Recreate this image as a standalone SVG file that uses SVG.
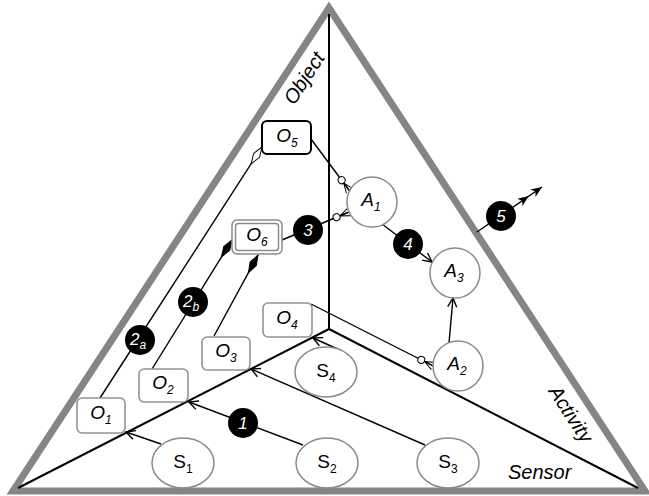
<svg xmlns="http://www.w3.org/2000/svg" width="649" height="496" viewBox="0 0 649 496">
<style>
.frame{fill:none;stroke:#858585;stroke-width:7;stroke-linejoin:miter}
.axis{fill:none;stroke:#000;stroke-width:2}
.conn{fill:none;stroke:#000;stroke-width:1.4}
.obox{fill:#fff;stroke:#939393;stroke-width:1.6}
.circ{fill:#fff;stroke:#8a8a8a;stroke-width:1.5}
.lbl{fill:#000}
.t{font-family:"Liberation Sans",Arial,sans-serif;font-size:19px;font-style:italic;fill:#000}
.s{font-family:"Liberation Sans",Arial,sans-serif;font-size:19px;fill:#000}
.w{font-family:"Liberation Sans",Arial,sans-serif;font-size:17px;font-style:italic;fill:#fff}
.big{font-family:"Liberation Sans",Arial,sans-serif;font-size:20px;font-style:italic;fill:#000}
</style>
<defs>
<marker id="arr" markerUnits="userSpaceOnUse" markerWidth="12" markerHeight="12" refX="0" refY="0" orient="auto" style="overflow:visible"><path d="M-9,-4.5 L0,0 L-9,4.5" fill="none" stroke="#000" stroke-width="1.4"/></marker>
<marker id="dh" markerUnits="userSpaceOnUse" markerWidth="22" markerHeight="10" refX="0" refY="0" orient="auto" style="overflow:visible"><path d="M0,0 L-10,-3.5 L-20,0 L-10,3.5 Z" fill="#fff" stroke="#000" stroke-width="1"/></marker>
<marker id="df" markerUnits="userSpaceOnUse" markerWidth="22" markerHeight="10" refX="0" refY="0" orient="auto" style="overflow:visible"><path d="M0,0 L-10,-3.5 L-20,0 L-10,3.5 Z" fill="#000" stroke="#000" stroke-width="1"/></marker>
<marker id="cf" markerUnits="userSpaceOnUse" markerWidth="20" markerHeight="12" refX="0" refY="0" orient="auto" style="overflow:visible"><path d="M0,-4 L-10,0 L0,4 M0,0 L-10,0" fill="none" stroke="#000" stroke-width="1"/><circle cx="-13.5" cy="0" r="3.5" fill="#fff" stroke="#000" stroke-width="1"/></marker>
<marker id="dbl" markerUnits="userSpaceOnUse" markerWidth="30" markerHeight="12" refX="0" refY="0" orient="auto" style="overflow:visible"><path d="M0,0 L-11,-4.5 L-8,0 L-11,4.5 Z M-16,0 L-27,-4.5 L-24,0 L-27,4.5 Z" fill="#000"/></marker>
</defs>
<rect width="649" height="496" fill="#fff"/>

<g id="frame">
<polygon class="frame" points="329,8 13,491 645,491"/>
<path class="axis" d="M329,14 L329,329 M329,329 L18,488 M329,329 L638,488"/>
<text class="big" transform="translate(304,78) rotate(-57)" x="0" y="7" text-anchor="middle">Object</text>
<text class="big" transform="translate(571,414) rotate(57)" x="0" y="7" text-anchor="middle">Activity</text>
<text class="big" x="508" y="479">Sensor</text>
</g>

<g id="connectors">
<path class="conn" d="M161,444 L126,432" marker-end="url(#arr)"/>
<path class="conn" d="M303,445 L189,402" marker-end="url(#arr)"/>
<path class="conn" d="M425,445 L251,369" marker-end="url(#arr)"/>
<path class="conn" d="M342,351 L313,338" marker-end="url(#arr)"/>
<path class="conn" d="M100,398 L262,147" marker-end="url(#dh)"/>
<path class="conn" d="M152,369 L232,240" marker-end="url(#df)"/>
<path class="conn" d="M214,336 L258,255" marker-end="url(#df)"/>
<path class="conn" d="M282,240 L349,212" marker-end="url(#cf)"/>
<path class="conn" d="M311,139 L349.7,191" marker-end="url(#cf)"/>
<path class="conn" d="M311,304 L433.3,366" marker-end="url(#cf)"/>
<path class="conn" d="M382,224 L432,262" marker-end="url(#arr)"/>
<path class="conn" d="M449,343 L453,298" marker-end="url(#arr)"/>
<path class="conn" d="M477,232 L542,187" marker-end="url(#dbl)"/>
</g>

<g id="S1"><ellipse class="circ" cx="183" cy="463" rx="31" ry="25"/><text class="s" x="183" y="468" text-anchor="middle">S<tspan font-size="12" dy="5">1</tspan></text></g>
<g id="S2"><ellipse class="circ" cx="327" cy="463" rx="31" ry="25"/><text class="s" x="327" y="468" text-anchor="middle">S<tspan font-size="12" dy="5">2</tspan></text></g>
<g id="S3"><ellipse class="circ" cx="448" cy="463" rx="31" ry="25"/><text class="s" x="448" y="468" text-anchor="middle">S<tspan font-size="12" dy="5">3</tspan></text></g>
<g id="S4"><ellipse class="circ" cx="326" cy="372" rx="31" ry="25"/><text class="s" x="326" y="377" text-anchor="middle">S<tspan font-size="12" dy="5">4</tspan></text></g>

<g id="O1"><rect class="obox" x="77" y="398" width="48" height="35" rx="5"/><text class="t" x="101" y="419" text-anchor="middle">O<tspan font-size="12" dy="5">1</tspan></text></g>
<g id="O2"><rect class="obox" x="139" y="369" width="49" height="33" rx="5"/><text class="t" x="163" y="389" text-anchor="middle">O<tspan font-size="12" dy="5">2</tspan></text></g>
<g id="O3"><rect class="obox" x="202" y="337" width="48" height="33" rx="5"/><text class="t" x="226" y="357" text-anchor="middle">O<tspan font-size="12" dy="5">3</tspan></text></g>
<g id="O4"><rect class="obox" x="263" y="303" width="49" height="34" rx="5"/><text class="t" x="287" y="324" text-anchor="middle">O<tspan font-size="12" dy="5">4</tspan></text></g>
<g id="O5"><rect x="262" y="121" width="49" height="33" rx="5" fill="#fff" stroke="#000" stroke-width="2"/><text class="t" x="287" y="142" text-anchor="middle">O<tspan font-size="12" dy="5">5</tspan></text></g>
<g id="O6"><rect x="232" y="220" width="50" height="34" rx="5" fill="#fff" stroke="#8a8a8a" stroke-width="1.5"/><rect x="235.5" y="223.5" width="43" height="27" rx="3" fill="#fff" stroke="#8a8a8a" stroke-width="1.5"/><text class="t" x="257" y="241" text-anchor="middle">O<tspan font-size="12" dy="5">6</tspan></text></g>

<g id="A1"><circle class="circ" cx="372" cy="202" r="25"/><text class="t" x="371" y="206" text-anchor="middle">A<tspan font-size="12" dy="5">1</tspan></text></g>
<g id="A2"><circle class="circ" cx="458" cy="366" r="25"/><text class="t" x="457" y="370" text-anchor="middle">A<tspan font-size="12" dy="5">2</tspan></text></g>
<g id="A3"><circle class="circ" cx="455" cy="273" r="25"/><text class="t" x="454" y="277" text-anchor="middle">A<tspan font-size="12" dy="5">3</tspan></text></g>

<g id="L1"><circle class="lbl" cx="243" cy="423" r="15"/><text class="w" x="243" y="429" text-anchor="middle">1</text></g>
<g id="L2a"><circle class="lbl" cx="140" cy="340" r="15"/><text class="w" x="138" y="345" text-anchor="middle">2<tspan font-size="12" dy="4">a</tspan></text></g>
<g id="L2b"><circle class="lbl" cx="193" cy="302" r="15"/><text class="w" x="191" y="307" text-anchor="middle">2<tspan font-size="12" dy="4">b</tspan></text></g>
<g id="L3"><circle class="lbl" cx="308" cy="230" r="15"/><text class="w" x="308" y="236" text-anchor="middle">3</text></g>
<g id="L4"><circle class="lbl" cx="408" cy="244" r="15"/><text class="w" x="408" y="250" text-anchor="middle">4</text></g>
<g id="L5"><circle class="lbl" cx="501" cy="216" r="15"/><text class="w" x="501" y="222" text-anchor="middle">5</text></g>
</svg>
